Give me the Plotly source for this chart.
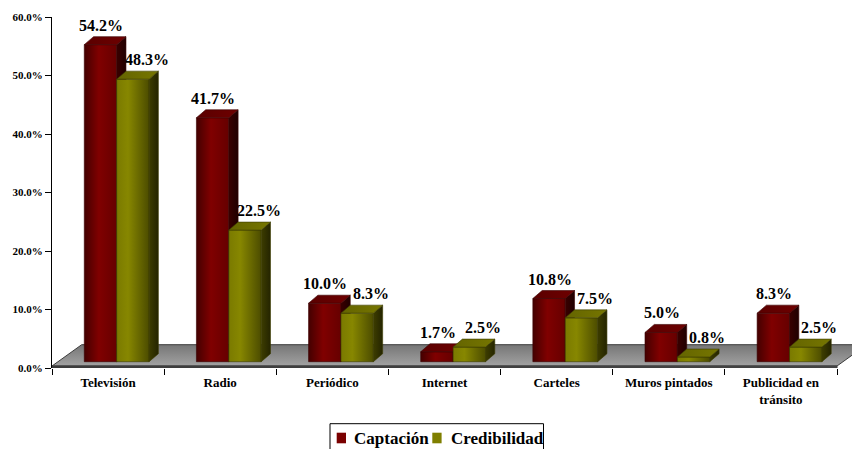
import plotly.graph_objects as go

# ---- data -------------------------------------------------------------
categorias = ["Televisión", "Radio", "Periódico", "Internet", "Carteles",
              "Muros pintados", "Publicidad en<br>tránsito"]
captacion = [54.2, 41.7, 10.0, 1.7, 10.8, 5.0, 8.3]
credibilidad = [48.3, 22.5, 8.3, 2.5, 7.5, 0.8, 2.5]
y_ticks = [0, 10, 20, 30, 40, 50, 60]
y_tick_labels = [f"{t:.1f}%" for t in y_ticks]
series_names = ["Captación", "Credibilidad"]

# ---- page / plot geometry ----------------------------------------------
W, H = 852, 449
M_L, M_R, M_T, M_B = 52, 0, 17, 81
PLOT_W = W - M_L - M_R
PLOT_H = H - M_T - M_B
CAT_PX = 785 / len(categorias)          # pixel width of one category slot
X_MIN = -0.5
X_MAX = X_MIN + PLOT_W / CAT_PX
Y_MIN, Y_MAX = 0, 60
PX_Y = PLOT_H / (Y_MAX - Y_MIN)


def ux(px):
    return px / CAT_PX


def uy(px):
    return px / PX_Y


def paper_x(px):
    return (px - M_L) / PLOT_W


def paper_y(py):
    return (H - M_B - py) / PLOT_H


# pseudo-3D offsets, in pixels
BAR_PLANE = (8.6, 6.3)      # bar front plane behind the axis plane
BAR_DEPTH = (9.3, 8.0)      # bar depth
FLOOR_DEPTH = (29.7, 21.3)  # floor depth
FLOOR_EDGE = 2.0            # thickness of the floor slab
BAR_W = 32.4

FONT = "Liberation Serif"

styles = [
    dict(front=[[0, "#440000"], [0.45, "#800000"], [1, "#660000"]],
         side=[[0, "#3a0000"], [1, "#1f0000"]],
         top=[[0, "#5a0000"], [1, "#6e0000"]],
         edge="#3a0000", swatch="#7a0000", label_shift=-4),
    dict(front=[[0, "#7a7a00"], [0.35, "#878700"], [1, "#4c4c00"]],
         side=[[0, "#3d3d00"], [1, "#242400"]],
         top=[[0, "#646400"], [1, "#767600"]],
         edge="#3d3d00", swatch="#7f7f00", label_shift=9),
]

fig = go.Figure()


def poly(xs, ys, scale, edge, gtype="horizontal", width=0.6):
    fig.add_trace(go.Scatter(
        x=xs + [xs[0]], y=ys + [ys[0]], mode="lines", fill="toself",
        fillgradient=dict(type=gtype, colorscale=scale),
        line=dict(color=edge, width=width), hoverinfo="skip",
        showlegend=False))


# ---- floor -----------------------------------------------------------
fx0, fx1 = X_MIN, X_MIN + len(categorias)
fdx, fdy = ux(FLOOR_DEPTH[0]), uy(FLOOR_DEPTH[1])
fe = uy(FLOOR_EDGE)
poly([fx0, fx1, fx1 + fdx, fx0 + fdx], [fe, fe, fe + fdy, fe + fdy],
     [[0, "#a2a2a2"], [1, "#767676"]], "#3c3c3c", gtype="vertical", width=1)
poly([fx0, fx1, fx1, fx0], [0, 0, fe, fe],
     [[0, "#3c3c3c"], [1, "#4a4a4a"]], "#3c3c3c", width=1)

# ---- bars ------------------------------------------------------------
bw = ux(BAR_W)
bdx, bdy = ux(BAR_DEPTH[0]), uy(BAR_DEPTH[1])
base = uy(BAR_PLANE[1])
annotations = []
for i in range(len(categorias)):
    group_left = i + ux(BAR_PLANE[0]) - bw
    for s, vals in enumerate([captacion, credibilidad]):
        st = styles[s]
        v = vals[i]
        x0 = group_left + s * bw
        x1 = x0 + bw
        y0 = base
        y1 = base + v
        # front face
        poly([x0, x1, x1, x0], [y0, y0, y1, y1], st["front"], st["edge"])
        # right side face
        poly([x1, x1 + bdx, x1 + bdx, x1], [y0, y0 + bdy, y1 + bdy, y1],
             st["side"], st["edge"])
        # top face
        poly([x0, x1, x1 + bdx, x0 + bdx], [y1, y1, y1 + bdy, y1 + bdy],
             st["top"], st["edge"])
        annotations.append(dict(
            x=x0 + bw / 2 + bdx / 2, y=y1 + bdy, xref="x", yref="y",
            text=f"<b>{v:.1f}%</b>", showarrow=False, yanchor="bottom",
            xanchor="center", xshift=st["label_shift"], yshift=1,
            font=dict(family=FONT, size=16, color="black")))

# ---- legend box ------------------------------------------------------
shapes = [dict(type="rect", xref="paper", yref="paper",
               x0=paper_x(330), x1=paper_x(543.5),
               y0=paper_y(455), y1=paper_y(423.7),
               line=dict(color="black", width=1), fillcolor="white",
               layer="above")]
legend_items = [(336.7, 352.3), (432.3, 448.5)]
for (sx, tx), name, st in zip(legend_items, series_names, styles):
    shapes.append(dict(type="rect", xref="paper", yref="paper",
                       x0=paper_x(sx), x1=paper_x(sx + 9.3),
                       y0=paper_y(443.3), y1=paper_y(432.7),
                       line=dict(width=0), fillcolor=st["swatch"],
                       layer="above"))
    annotations.append(dict(
        x=paper_x(tx), y=paper_y(438.8), xref="paper", yref="paper",
        text=f"<b>{name}</b>", showarrow=False, xanchor="left",
        yanchor="middle",
        font=dict(family=FONT, size=17, color="black")))

fig.update_layout(
    width=W, height=H, autosize=False,
    margin=dict(l=M_L, r=M_R, t=M_T, b=M_B, pad=0),
    paper_bgcolor="white", plot_bgcolor="white",
    showlegend=False,
    font=dict(family=FONT, color="black"),
    annotations=annotations, shapes=shapes,
    xaxis=dict(
        range=[X_MIN, X_MAX], showgrid=False, zeroline=False, showline=False,
        tickmode="array", tickvals=list(range(len(categorias))),
        ticktext=[f"<b>{c}</b>" for c in categorias], ticks="",
        ticklabelstandoff=5,
        tickfont=dict(family=FONT, size=13, color="black"),
        minor=dict(tickmode="array",
                   tickvals=[k - 0.5 for k in range(len(categorias) + 1)],
                   ticks="outside", ticklen=6, tickwidth=1,
                   tickcolor="black", showgrid=False),
        fixedrange=True),
    yaxis=dict(
        range=[Y_MIN, Y_MAX], showgrid=False, zeroline=False,
        showline=True, linecolor="black", linewidth=1,
        tickmode="array", tickvals=y_ticks,
        ticktext=[f"<b>{t}</b>" for t in y_tick_labels],
        ticks="outside", ticklen=6, tickwidth=1, tickcolor="black",
        tickfont=dict(family=FONT, size=11, color="black"),
        fixedrange=True),
)

fig.write_html("out.html")
